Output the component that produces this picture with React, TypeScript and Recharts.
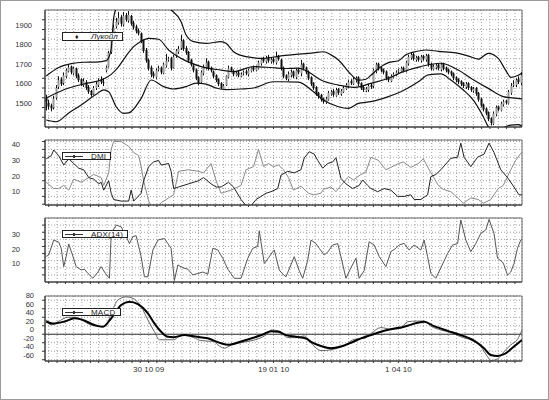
import React from 'react';
import { ComposedChart, Line, Bar, XAxis, YAxis, CartesianGrid, ReferenceLine, ReferenceArea } from 'recharts';

// ---------- DATA ----------
const opens = [1550,1525,1510,1500,1550,1605,1645,1625,1660,1685,
1710,1675,1700,1665,1645,1615,1630,1605,1585,1570,
1600,1615,1645,1630,1690,1710,1785,1865,1915,1935,
1965,1925,1975,1945,1970,1935,1915,1895,1880,1845,
1795,1745,1705,1675,1655,1695,1705,1675,1715,1745,
1755,1705,1765,1785,1805,1845,1805,1785,1745,1715,
1695,1655,1630,1675,1705,1735,1705,1685,1665,1645,
1625,1595,1615,1655,1705,1685,1665,1680,1660,1675,
1685,1670,1685,1705,1690,1700,1725,1750,1735,1760,
1735,1750,1730,1765,1745,1705,1665,1645,1665,1685,
1655,1695,1675,1725,1705,1685,1655,1625,1605,1575,
1565,1545,1525,1540,1570,1585,1560,1595,1570,1580,
1595,1610,1635,1620,1640,1655,1625,1605,1585,1590,
1615,1610,1685,1725,1705,1695,1685,1655,1635,1655,
1665,1685,1685,1705,1685,1725,1755,1775,1745,1760,
1740,1765,1745,1770,1725,1695,1705,1720,1695,1725,
1705,1695,1685,1675,1655,1645,1635,1625,1605,1625,
1605,1585,1600,1575,1545,1515,1495,1475,1445,1415,
1465,1505,1485,1515,1535,1520,1575,1615,1615,1645,
1625];
const closes = [1530,1505,1495,1545,1600,1640,1620,1665,1690,1705,
1680,1700,1660,1640,1620,1635,1600,1580,1565,1600,
1620,1640,1630,1625,1705,1780,1860,1910,1940,1960,
1930,1970,1950,1975,1930,1910,1890,1880,1840,1790,
1740,1700,1670,1660,1690,1700,1680,1720,1740,1750,
1700,1760,1790,1800,1840,1800,1780,1740,1720,1690,
1650,1625,1680,1710,1730,1700,1690,1660,1640,1620,
1600,1610,1660,1700,1690,1670,1675,1665,1670,1680,
1675,1690,1700,1695,1705,1730,1745,1740,1755,1740,
1745,1735,1760,1750,1700,1660,1650,1670,1680,1660,
1690,1680,1720,1700,1680,1650,1620,1600,1570,1560,
1540,1530,1545,1575,1580,1565,1590,1575,1585,1600,
1615,1630,1625,1645,1650,1620,1600,1590,1595,1610,
1605,1690,1720,1700,1690,1680,1650,1640,1660,1670,
1680,1690,1700,1690,1730,1760,1770,1750,1755,1745,
1760,1750,1765,1720,1700,1710,1715,1700,1720,1700,
1690,1680,1670,1650,1640,1630,1620,1610,1620,1600,
1590,1595,1570,1540,1510,1490,1470,1440,1420,1470,
1500,1490,1520,1530,1525,1580,1610,1620,1640,1630,
1665];
const highs = [1565,1540,1520,1560,1615,1660,1655,1680,1700,1720,
1715,1710,1705,1675,1650,1650,1640,1615,1590,1610,
1635,1650,1660,1650,1715,1790,1870,1925,1960,1990,
1975,1990,1985,1995,1975,1945,1925,1905,1885,1850,
1805,1750,1715,1685,1700,1715,1710,1730,1775,1760,
1760,1770,1800,1815,1872,1850,1815,1790,1750,1720,
1700,1660,1690,1720,1752,1740,1710,1690,1670,1650,
1630,1620,1665,1715,1710,1695,1685,1690,1680,1690,
1695,1700,1705,1715,1715,1740,1755,1760,1765,1770,
1755,1760,1787,1770,1750,1710,1670,1685,1695,1690,
1700,1700,1744,1730,1710,1690,1660,1630,1610,1580,
1570,1550,1555,1585,1590,1595,1600,1600,1595,1610,
1625,1640,1645,1655,1660,1660,1630,1610,1605,1620,
1625,1700,1730,1730,1710,1700,1690,1660,1670,1680,
1690,1700,1710,1710,1740,1770,1785,1780,1765,1765,
1770,1770,1775,1775,1730,1720,1725,1725,1730,1730,
1710,1700,1690,1680,1660,1650,1640,1630,1630,1630,
1610,1605,1605,1580,1550,1520,1500,1480,1450,1480,
1510,1510,1530,1540,1540,1590,1625,1640,1650,1660,
1680];
const lows = [1485,1490,1480,1490,1540,1595,1610,1615,1650,1680,
1670,1665,1650,1630,1610,1605,1590,1570,1555,1565,
1590,1605,1620,1610,1680,1705,1775,1855,1905,1925,
1915,1915,1940,1935,1920,1900,1880,1870,1830,1780,
1730,1690,1655,1650,1645,1685,1670,1670,1705,1735,
1690,1700,1755,1775,1795,1790,1770,1730,1710,1680,
1640,1615,1620,1665,1695,1690,1680,1650,1630,1610,
1595,1590,1610,1650,1680,1660,1660,1655,1655,1665,
1665,1660,1680,1685,1685,1695,1715,1730,1725,1730,
1725,1725,1720,1740,1690,1650,1640,1635,1655,1650,
1645,1670,1660,1690,1670,1640,1610,1590,1560,1545,
1530,1520,1518,1535,1560,1555,1555,1565,1560,1575,
1590,1600,1615,1615,1630,1610,1590,1580,1578,1580,
1595,1600,1675,1690,1680,1670,1640,1630,1630,1650,
1660,1675,1680,1680,1680,1715,1745,1740,1735,1735,
1730,1740,1735,1710,1690,1690,1695,1690,1685,1690,
1680,1670,1660,1640,1630,1620,1610,1600,1595,1590,
1580,1575,1560,1530,1500,1480,1460,1430,1408,1410,
1455,1480,1480,1505,1515,1515,1565,1605,1605,1620,
1615];

// Bollinger bands [day, value]
const bbUpper: [number, number][] = [[0,1662],[5,1705],[10,1725],[15,1732],[20,1733],[24,1740],[25,1755],[26,1800],[27,1960],[28,2010],[30,2060],[34,2120],[40,2070],[45,2050],[48,2020],[50,2000],[54,1940],[56,1872],[59,1838],[64,1829],[70,1838],[72,1829],[75,1786],[80,1761],[87,1752],[94,1765],[100,1772],[107,1780],[111,1786],[114,1770],[117,1744],[122,1670],[125,1640],[128,1645],[130,1665],[133,1700],[137,1730],[141,1740],[144,1770],[148,1787],[152,1795],[157,1788],[164,1780],[170,1760],[173,1748],[177,1778],[181,1752],[184,1690],[186,1655],[189,1665],[191,1684]];
const bbMiddle: [number, number][] = [[0,1549],[9,1600],[17,1626],[22,1641],[26,1670],[29,1710],[32,1765],[35,1812],[38,1840],[41,1855],[45,1850],[49,1795],[54,1752],[62,1710],[70,1692],[75,1684],[83,1710],[90,1705],[95,1700],[101,1702],[105,1682],[110,1641],[117,1615],[123,1603],[130,1624],[137,1650],[143,1684],[150,1710],[158,1727],[165,1692],[170,1650],[177,1598],[183,1556],[191,1544]];
const bbLower: [number, number][] = [[0,1436],[4,1427],[9,1472],[14,1513],[20,1568],[23,1590],[25,1581],[28,1504],[31,1470],[33,1472],[38,1547],[42,1641],[47,1607],[51,1595],[56,1607],[60,1625],[64,1620],[68,1600],[72,1592],[78,1595],[83,1600],[91,1632],[95,1632],[101,1630],[107,1581],[111,1538],[117,1504],[121,1496],[125,1521],[130,1530],[137,1556],[142,1581],[149,1632],[153,1667],[158,1672],[162,1641],[167,1590],[171,1538],[175,1453],[177,1402],[180,1375],[183,1395],[186,1410],[189,1412],[191,1400]];

// DMI
const diPlus: [number, number][] = [[0,19],[3,15],[5,15],[7,17],[9,14],[11,21],[14,19],[17,22],[19,24],[22,22],[23,17],[25,25],[26,40],[27,45],[30,45],[33,42],[35,38],[37,36],[38,29],[39,20],[41,7],[42,4],[45,4],[46,6],[49,9],[51,11],[53,26],[57,27],[61,26],[63,25],[66,31],[68,20],[70,12],[74,14],[78,17],[80,27],[83,29],[85,40],[87,29],[89,31],[91,29],[93,30],[95,27],[97,22],[99,14],[102,16.5],[105,12],[107,11],[110,12],[111,14.5],[114,16],[116,13],[118,17],[121,22.6],[123,20.5],[126,24],[128,25.5],[130,35],[133,33],[136,27],[138,28.5],[141,31],[143,32],[146,28.5],[149,31],[151,34],[153,28],[157,17],[159,14.5],[162,13],[165,8.7],[167,5.6],[170,9],[173,8],[175,5.6],[178,8],[181,15],[183,17],[186,27],[188,33],[190,37.5],[191,38]];
const diMinus: [number, number][] = [[0,34],[2,36],[3,39.6],[5,36],[7,30],[9,34],[11,31],[13,28],[15,27],[17,22],[19,21],[21,18],[22,19],[23,14],[25,20],[26,12],[27,8],[30,7],[33,7],[34,14],[35,7],[38,12],[39,20],[41,29],[43,32],[45,33],[46,30],[49,31],[50,26],[51,15],[53,16],[57,18],[61,20],[63,22],[66,18],[68,16],[70,16],[73,19],[75,16],[78,8],[80,4],[82,4],[84,8],[86,10],[88,12],[90,13],[92.7,15],[94,23.6],[96.7,26],[99.3,25],[102,27],[103.3,34.5],[105.3,38.5],[107.3,37],[108.7,33],[110.7,28],[112.7,31],[114.7,32],[116,34.7],[118,21.5],[120,18],[122.7,15],[125.3,17],[126.7,20.5],[128.7,17],[130,15],[132.7,13],[135.3,15],[138,14],[140.7,10],[143.3,10],[146,11],[147.3,8],[150,8],[152.7,11],[154,22.6],[156,24],[158,27],[162,34.3],[164.7,35],[166,44],[167.3,35],[170,29],[172.7,35],[175.3,37],[177.3,44],[179.3,38],[182,27],[184.7,22],[187.3,16],[189.3,11],[191,11]];

// ADX(14)
const adx: [number, number][] = [[0,18],[1,19],[3,29.5],[5,28],[6,23.7],[7,10.8],[8,18],[9,26.7],[10.5,19],[12,10.8],[14,8.5],[15.3,9],[16.7,6],[18.7,2.6],[20.7,7],[22,10.8],[23.7,6],[25.3,2.6],[26,34],[28,40],[30,38.8],[32,32],[33.3,27],[34.7,32],[36,32.5],[38,17.8],[39.3,3.7],[40.7,3.7],[42.7,22.5],[44.7,29.5],[47.3,30.6],[48.7,27],[50,23.7],[51.3,1],[52.7,12],[54.7,10],[56.7,9],[58.7,5],[60.7,6],[62.7,7],[64.7,5.5],[66.7,23.7],[68.7,22.5],[70.7,16.7],[72.7,9],[75.3,2.6],[78,2.6],[80.7,16.7],[82.7,23.7],[84.7,25],[85.3,36],[87.3,13],[89,17],[90.7,21.3],[91.3,22.5],[93.3,8.4],[95,5],[96,3.7],[99.3,17.8],[101.3,8],[102.7,2.6],[104.7,15.3],[106,29.5],[108,27],[109.3,23.7],[111.3,19],[112.7,21],[114.7,26],[116.7,27],[118,17.8],[120,2.6],[122,10],[124,16.7],[125.3,2.6],[127.3,8],[129.3,28.3],[131.3,26],[133.3,18],[136,10.8],[138,21.3],[140,23.7],[141.3,26],[143.3,27.2],[145.3,22.5],[147.3,26],[150,22.5],[151.3,29.5],[152.7,17.8],[154,6.1],[156,2.6],[158,10],[160.7,20],[162.7,26],[164.7,27],[166,43.6],[168,29.5],[170,21.3],[172,27],[174,34.2],[176,36.6],[177.3,44],[179.3,34.2],[180.7,16.7],[182.7,14],[183.3,12],[184.7,4.8],[186,7],[187.3,13],[188.7,23.7],[190,29.5],[191,31]];

// MACD
const macd: [number, number][] = [[0,34],[2,22],[4.7,29.5],[8.7,40],[11.3,40],[14,33.5],[18,21.7],[22,17.8],[24,20],[26,49],[28.7,80.6],[32,88],[34.7,84.5],[38,64.8],[40.7,33.5],[43.3,6],[45.3,-13],[51,-13],[53,-6],[55.3,-2],[59,-8],[62,-15],[67,-17],[68.7,-25],[71.3,-33],[74,-26],[78,-20],[86,-8],[88.7,1.6],[90,10],[93,8],[96.7,-7.8],[100,-8],[103.3,-4],[106.7,-25],[110,-38.6],[116.7,-33],[120.7,-21.4],[123.3,-12],[127.3,-9.6],[130,1.6],[134,15.7],[138,11.8],[142,14],[144.7,29.5],[148.7,31],[151.3,31],[154,19],[158,10],[162,4],[166,-6],[170,-13.6],[174,-29],[176.7,-52.9],[178,-62],[180.7,-58],[183.3,-41],[186,-25],[188.7,-12],[190.5,10]];
const macdSignal: [number, number][] = [[0,30],[2.7,25],[7.3,30],[11.3,37.5],[14,35],[19.3,21.7],[22.7,17.8],[26,37.5],[30,68.8],[33.3,76.6],[36.7,71],[40.7,49.2],[43.3,25.7],[46,6],[48.7,-6],[51,-7],[55.3,-2],[59,-5],[64.7,-9.6],[70,-21.4],[72.7,-25],[78,-17],[83.3,-7.8],[87,0],[90,7],[93,6],[96,-2],[100,-6],[104,-10],[106,-17.8],[110,-27.7],[114,-33],[118,-29],[122,-20],[126,-9.6],[130,-2],[134,6],[138,11.8],[143.3,17.8],[148.7,27],[151.3,29.5],[155.3,19],[160.7,8],[166,-2],[171.3,-15],[175.3,-33],[178,-48.8],[180.7,-51],[183.3,-47],[187.3,-29],[190.5,-13.6]];

const xLabels = [
  { t: 41, text: '30 10 09' },
  { t: 91, text: '19 01 10' },
  { t: 141, text: '1 04 10' },
];

const priceTicks = [1450, 1500, 1550, 1600, 1650, 1700, 1750, 1800, 1850, 1900, 1950];
const priceLabels = [1500, 1600, 1700, 1800, 1900];
const dmiTicks = [5, 10, 15, 20, 25, 30, 35, 40, 45];
const dmiLabels = [10, 20, 30, 40];
const adxTicks = [5, 10, 15, 20, 25, 30, 35, 40];
const adxLabels = [10, 20, 30];
const macdTicks = [-60, -40, -20, 0, 20, 40, 60, 80];
const macdLabels = [-60, -40, -20, 0, 20, 40, 60, 80];

// ---------- HELPERS ----------
const candles = opens.map((o, i) => ({ t: i, o, c: closes[i], h: highs[i], l: lows[i], range: [lows[i], highs[i]] }));
const pts = (arr: [number, number][]) => arr.map(([t, v]) => ({ t, v }));

const X_DOMAIN: [number, number] = [-0.5, 190.5];
const GRID_X = Array.from({ length: 57 }, (_, k) => 1 + (k * 10) / 3);
const FONT = "'Liberation Sans', Arial, sans-serif";

const Candle = (props: any) => {
  const { x, width, y, height, payload } = props;
  if (!payload || height == null) return <g />;
  const { o, c, h, l } = payload;
  const cx = Math.round(x + width / 2) + 0.5;
  const span = h - l || 1;
  const py = (v: number) => y + ((h - v) / span) * height;
  const top = py(Math.max(o, c));
  const bot = py(Math.min(o, c));
  const up = c >= o;
  return (
    <g>
      <line x1={cx} x2={cx} y1={y} y2={y + height} stroke="#111" strokeWidth={1} />
      <rect x={cx - 1} y={top} width={2} height={Math.max(1, bot - top)} fill={up ? '#9a9a9a' : '#111'} />
    </g>
  );
};

const makeYTick = (labels: number[]) => (props: any) => {
  const { x, y, payload } = props;
  if (!labels.includes(payload.value)) return <g />;
  return (
    <text x={x} y={y - 4.5} textAnchor="end" dominantBaseline="central" fontSize={7.5} fill="#333" fontFamily={FONT}>
      {payload.value}
    </text>
  );
};

const makeXTick = (show: boolean) => (props: any) => {
  const { x, y, payload } = props;
  const lab = show ? xLabels.find((l) => Math.abs(l.t - payload.value) < 0.01) : undefined;
  if (!lab) return <g />;
  return (
    <text x={x} y={y + 4} textAnchor="middle" dominantBaseline="central" fontSize={8} fill="#333" fontFamily={FONT}>
      {lab.text}
    </text>
  );
};

type PanelProps = {
  top: number;
  height: number;
  xAxisHeight: number;
  yDomain: [number, number];
  yTicks: number[];
  yLabels: number[];
  tickMargin: number;
  showXLabels?: boolean;
  data: any[];
  children: React.ReactNode;
};

function Panel({ top, height, xAxisHeight, yDomain, yTicks, yLabels, tickMargin, showXLabels, data, children }: PanelProps) {
  return (
    <div style={{ position: 'absolute', left: 0, top }}>
      <ComposedChart width={549} height={height} data={data} margin={{ top: 10, right: 27, bottom: 0, left: 0 }}>
        <CartesianGrid stroke="#a0a0a0" strokeDasharray="1 2" />
        <XAxis
          type="number"
          dataKey="t"
          domain={X_DOMAIN}
          allowDataOverflow
          ticks={GRID_X}
          interval={0}
          height={xAxisHeight}
          tickSize={2}
          stroke="#333"
          tick={makeXTick(!!showXLabels)}
        />
        <YAxis
          type="number"
          domain={yDomain}
          allowDataOverflow
          ticks={yTicks}
          interval={0}
          width={45}
          tickSize={3}
          tickMargin={tickMargin}
          stroke="#333"
          tick={makeYTick(yLabels)}
        />
        <ReferenceArea x1={X_DOMAIN[0]} x2={X_DOMAIN[1]} y1={yDomain[0]} y2={yDomain[1]} fill="none" stroke="#666" strokeWidth={1} />
        {children}
      </ComposedChart>
    </div>
  );
}

const legendBox: React.CSSProperties = {
  position: 'absolute',
  border: '1px solid #222',
  background: '#fff',
  boxSizing: 'border-box',
  fontFamily: FONT,
  fontSize: 8,
  color: '#222',
  lineHeight: '7px',
};

function LineLegend({ left, top, width, label }: { left: number; top: number; width: number; label: string }) {
  return (
    <div style={{ ...legendBox, left, top, width, height: 8 }}>
      <div style={{ position: 'absolute', left: 2, top: 3, width: 18, height: 1, background: '#333' }} />
      <div style={{ position: 'absolute', left: 10, top: 2, width: 2, height: 3, background: '#333' }} />
      <div style={{ position: 'absolute', left: 28, top: 0, whiteSpace: 'nowrap', letterSpacing: 0.2 }}>{label}</div>
    </div>
  );
}

export default function App() {
  return (
    <div style={{ position: 'absolute', left: 0, top: 0, width: 549, height: 400, background: '#fff', border: '1px solid #9a9a9a', boxSizing: 'border-box', overflow: 'hidden' }}>
      <div style={{ position: 'absolute', left: -1, top: -1, width: 549, height: 400 }}>
        <Panel top={0} height={140} xAxisHeight={13} yDomain={[1400, 2000]} yTicks={priceTicks} yLabels={priceLabels} tickMargin={10} data={candles}>
          <Bar dataKey="range" shape={Candle} barSize={2} isAnimationActive={false} />
          <Line data={pts(bbUpper)} dataKey="v" type="monotone" stroke="#111" strokeWidth={1.2} dot={false} isAnimationActive={false} />
          <Line data={pts(bbMiddle)} dataKey="v" type="monotone" stroke="#111" strokeWidth={1.2} dot={false} isAnimationActive={false} />
          <Line data={pts(bbLower)} dataKey="v" type="monotone" stroke="#111" strokeWidth={1.2} dot={false} isAnimationActive={false} />
        </Panel>
        <Panel top={130} height={88} xAxisHeight={13} yDomain={[4.5, 46]} yTicks={dmiTicks} yLabels={dmiLabels} tickMargin={22} data={pts(diPlus)}>
          <Line data={pts(diPlus)} dataKey="v" type="linear" stroke="#8a8a8a" strokeWidth={1} dot={false} isAnimationActive={false} />
          <Line data={pts(diMinus)} dataKey="v" type="linear" stroke="#222" strokeWidth={1} dot={false} isAnimationActive={false} />
        </Panel>
        <Panel top={208} height={87} xAxisHeight={13} yDomain={[0, 45]} yTicks={adxTicks} yLabels={adxLabels} tickMargin={22} data={pts(adx)}>
          <Line data={pts(adx)} dataKey="v" type="linear" stroke="#555" strokeWidth={1} dot={false} isAnimationActive={false} />
        </Panel>
        <Panel top={286} height={100} xAxisHeight={25} yDomain={[-63, 90]} yTicks={macdTicks} yLabels={macdLabels} tickMargin={8} showXLabels data={pts(macd)}>
          <ReferenceLine y={0} stroke="#333" strokeWidth={1} />
          <Line data={pts(macd)} dataKey="v" type="monotone" stroke="#666" strokeWidth={1} dot={false} isAnimationActive={false} />
          <Line data={pts(macdSignal)} dataKey="v" type="monotone" stroke="#000" strokeWidth={2} dot={false} isAnimationActive={false} />
        </Panel>

        <div style={{ ...legendBox, left: 62, top: 32, width: 61, height: 9 }}>
          <div style={{ position: 'absolute', left: 12, top: 0, fontSize: 7 }}>♦</div>
          <div style={{ position: 'absolute', left: 28, top: 0, fontStyle: 'italic', letterSpacing: 0, whiteSpace: 'nowrap' }}>Лукойл</div>
        </div>
        <LineLegend left={62} top={152} width={49} label="DMI" />
        <LineLegend left={62} top={230} width={66} label="ADX(14)" />
        <LineLegend left={62} top={308} width={59} label="MACD" />
      </div>
    </div>
  );
}
